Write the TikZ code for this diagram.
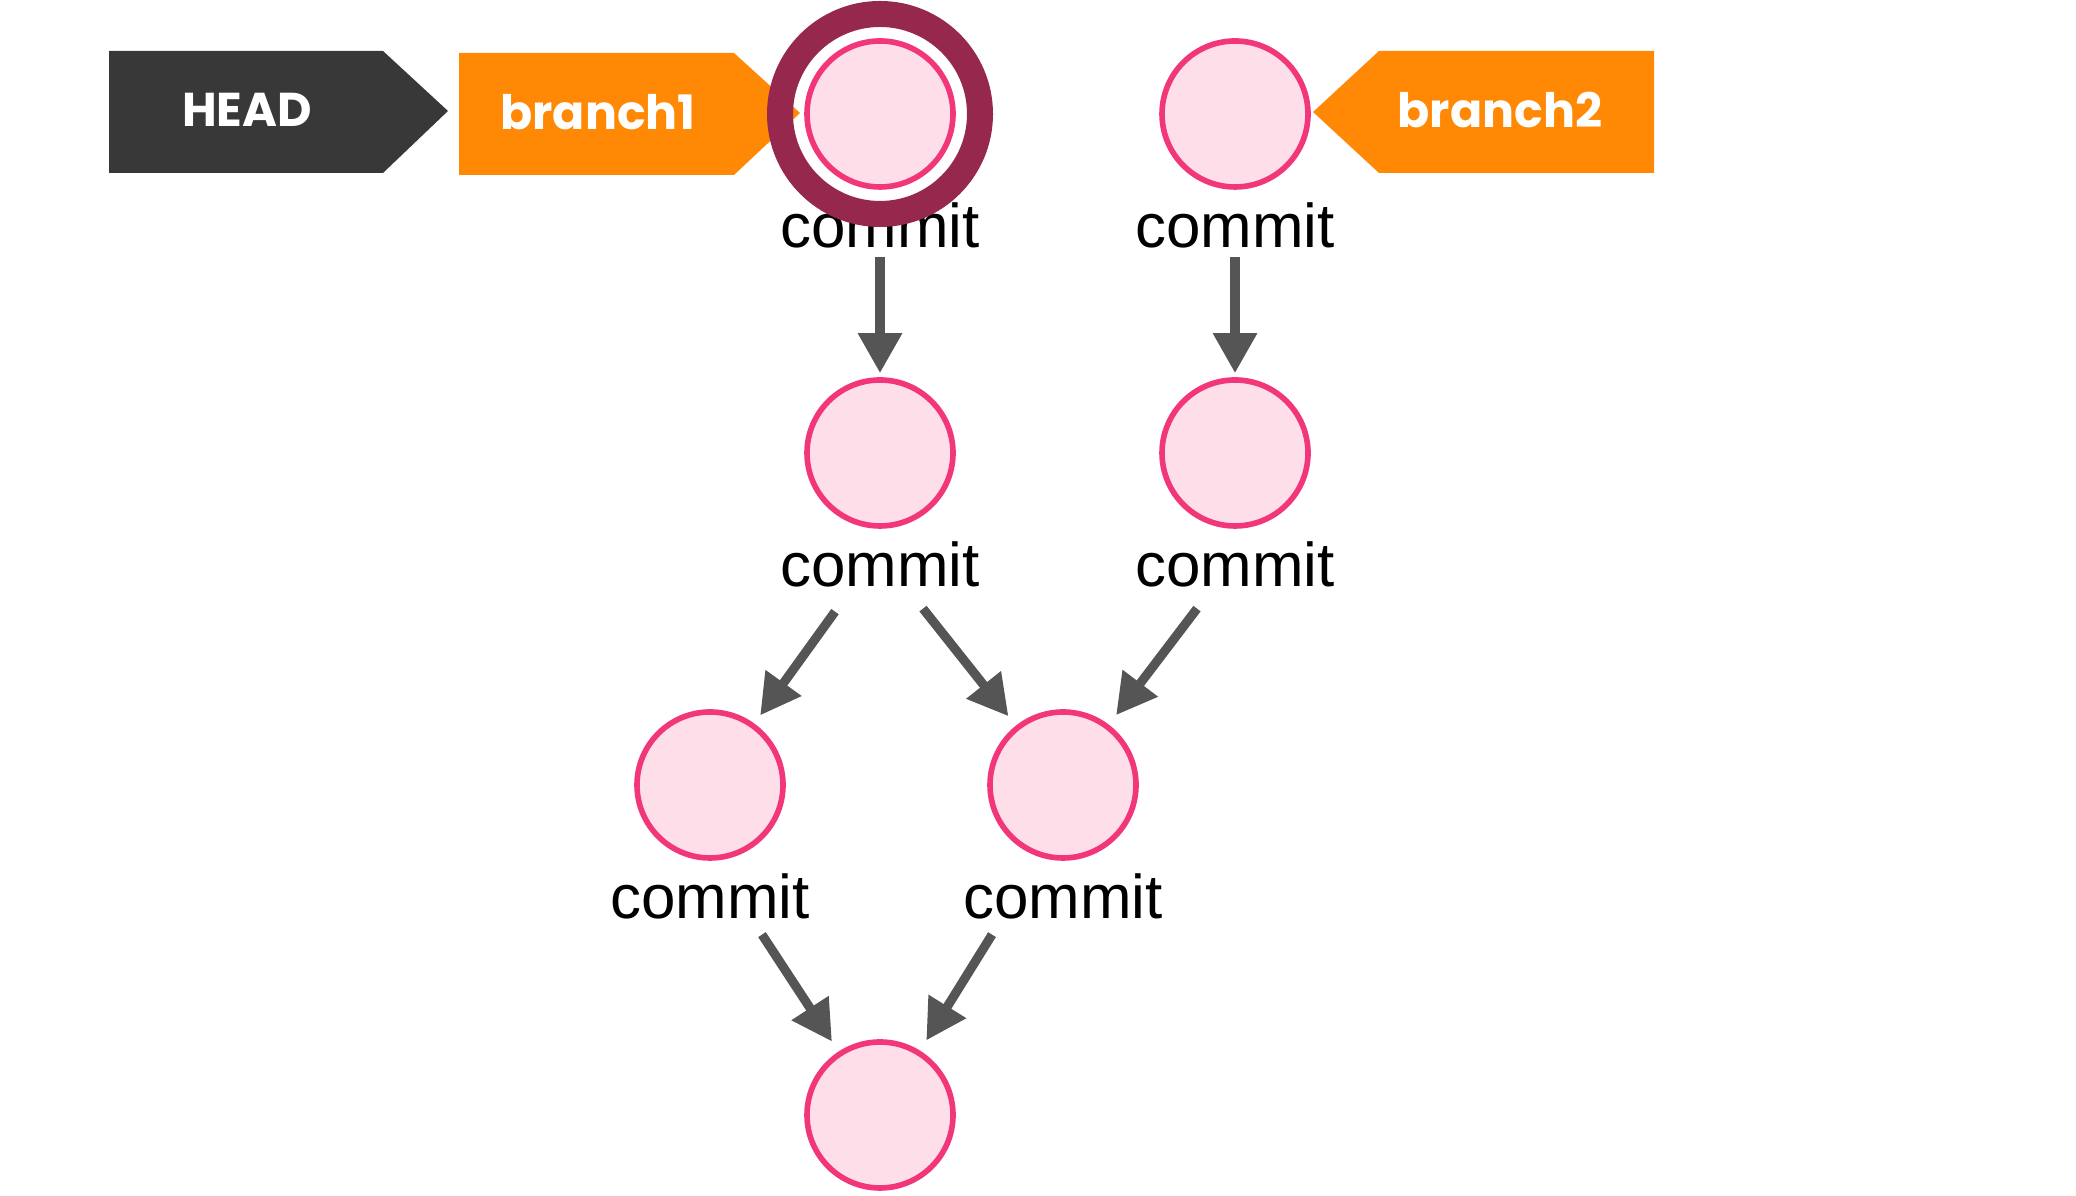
\documentclass[tikz,border=0pt]{standalone}
\usepackage{fontspec}
\setmainfont{Liberation Sans}
\newfontfamily\tagfont{Poppins}
\usepackage{tikz}
\usetikzlibrary{arrows.meta, positioning, calc}
\definecolor{mypink}{RGB}{242,54,122}
\definecolor{pinkfill}{RGB}{253,222,233}
\definecolor{myring}{RGB}{150,40,78}
\definecolor{myorange}{RGB}{255,136,5}
\definecolor{mydark}{RGB}{56,56,56}
\definecolor{myarrow}{RGB}{85,85,85}
\tikzset{
  commit/.style={circle, draw=mypink, fill=pinkfill, line width=1.6pt,
    minimum size=1.46cm, inner sep=0pt},
  commitlbl/.style={font=\fontsize{17.6}{20}\selectfont, inner sep=0pt},
  taglbl/.style={font=\tagfont\bfseries\fontsize{13.5}{16}\selectfont,
    text=white, inner sep=0pt},
  commitarrow/.style={-{Triangle[length=0.4cm, width=0.42cm]},
    line width=2.6pt, color=myarrow}
}

\begin{document}
\begin{tikzpicture}
  \useasboundingbox (0,0) rectangle (20.76,11.96);

  % --- Tags ---
  \fill[mydark] (1.09,10.23) -- (3.83,10.23) -- (4.48,10.85) -- (3.83,11.45) -- (1.09,11.45) -- cycle;
  \node[taglbl] (head) at (2.47,10.86) {HEAD};
  \fill[myorange] (4.59,10.21) -- (7.34,10.21) -- (8.00,10.83) -- (7.34,11.43) -- (4.59,11.43) -- cycle;
  \node[taglbl] (br1) at (5.98,10.84) {branch1};
  \fill[myorange] (13.13,10.84) -- (13.79,10.23) -- (16.54,10.23) -- (16.54,11.45) -- (13.79,11.45) -- cycle;
  \node[taglbl] (br2) at (15.00,10.86) {branch2};

  % --- Commits ---
  \node[commit] (c1) at (8.80,10.82) {};
  \node[commit] (c2) at (12.35,10.82) {};
  \node[commit] (c3) at (8.80,7.43) {};
  \node[commit] (c4) at (12.35,7.43) {};
  \node[commit] (c5) at (7.10,4.11) {};
  \node[commit] (c6) at (10.63,4.11) {};
  \node[commit] (c7) at (8.80,0.81) {};

  \foreach \c in {1,...,6}
    \node[commitlbl, below=0.12cm of c\c] (l\c) {commit};

  % HEAD marker ring
  \draw[myring, line width=0.26cm] (c1) circle (1.0cm);

  % --- Parent links ---
  \coordinate (s35) at ($(l3.south)+(-0.45,-0.24)$);
  \coordinate (s36) at ($(l3.south)+(0.43,-0.21)$);
  \coordinate (s46) at ($(l4.south)+(-0.38,-0.21)$);
  \coordinate (s57) at ($(l5.south)+(0.52,-0.15)$);
  \coordinate (s67) at ($(l6.south)+(-0.71,-0.15)$);

  \draw[commitarrow, shorten <=0.08cm, shorten >=0.04cm] (l1) -- (c3);
  \draw[commitarrow, shorten <=0.08cm, shorten >=0.04cm] (l2) -- (c4);
  \draw[commitarrow, shorten >=0.1cm] (s35) -- (c5);
  \draw[commitarrow, shorten >=0.12cm] (s36) -- (c6);
  \draw[commitarrow, shorten >=0.12cm] (s46) -- (c6);
  \draw[commitarrow, shorten >=0.12cm] (s57) -- (c7);
  \draw[commitarrow, shorten >=0.12cm] (s67) -- (c7);
\end{tikzpicture}
\end{document}
